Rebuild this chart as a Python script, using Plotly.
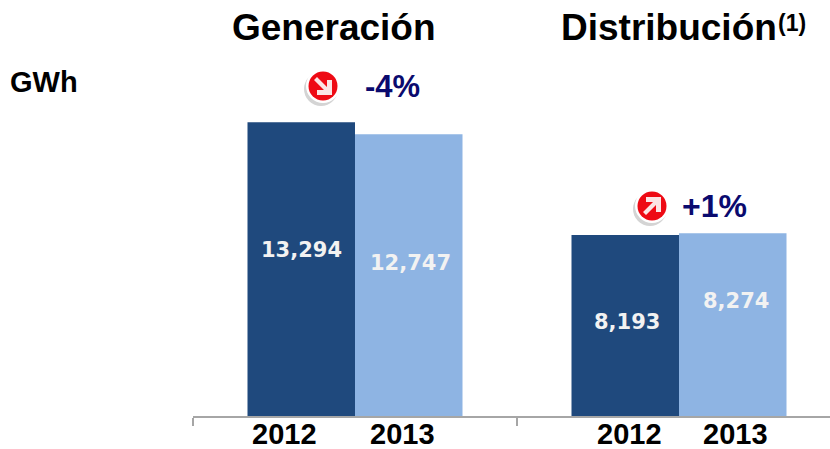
import plotly.graph_objects as go

W, H = 830, 449
categories = ["Generación", "Distribución"]
years = ["2012", "2013"]
values_2012 = [13294, 8193]
values_2013 = [12747, 8274]
changes = ["-4%", "+1%"]
unit = "GWh"
note = "(1)"

def px(x): return x / W
def py(y): return 1 - y / H

AX_Y = 416
fig = go.Figure()
fig.add_bar(name=years[0], x=categories, y=values_2012, marker=dict(color="#1f497d", line_width=0))
fig.add_bar(name=years[1], x=categories, y=values_2013, marker=dict(color="#8eb4e3", line_width=0))

fonts = "Liberation Sans, Arial, sans-serif"
ann = []
def text(x, y, s, size, color="#000000", family=fonts, anchor="center"):
    ann.append(dict(x=px(x), y=py(y), xref="paper", yref="paper", text=s, showarrow=False,
                    xanchor=anchor, yanchor="middle", font=dict(family=family, size=size, color=color)))

bold = lambda s: f"<b>{s}</b>"
text(334, 27, bold(categories[0]), 37)
text(669, 27, bold(categories[1]), 37)
text(792, 23, bold(note), 23)
text(44, 82, bold(unit), 29)

for x, y, v in zip([301, 627], [250, 322], values_2012):
    text(x, y, bold(f"{v:,}"), 21, "#f2f2f2", "DejaVu Sans")
for x, y, v in zip([410, 736], [263, 301], values_2013):
    text(x, y, bold(f"{v:,}"), 21, "#f2f2f2", "DejaVu Sans")

for x in [284, 629]:
    text(x, 434, bold(years[0]), 29)
for x in [402, 735]:
    text(x, 434, bold(years[1]), 29)

text(392, 86, bold(changes[0]), 31, "#0a0a6e")
text(714, 206, bold(changes[1]), 32, "#0a0a6e")

shapes = []
def badge(cx, cy, up):
    def circ(dx, dy, r, color):
        shapes.append(dict(type="circle", xref="paper", yref="paper", layer="above",
                           x0=px(cx + dx - r), x1=px(cx + dx + r),
                           y0=py(cy + dy + r), y1=py(cy + dy - r),
                           fillcolor=color, line_width=0))
    circ(-2, 3, 17, "#d4d4d4")
    circ(0, 0, 17, "#ffffff")
    circ(0, 0, 14.5, "#ee0a14")
    s = -1 if up else 1
    pts = [(-9, -6), (-6, -9), (4, 1), (4, -6), (9, -6), (9, 9), (-6, 9), (-6, 4), (1, 4)]
    path = "M " + " L ".join(f"{px(cx + a)},{py(cy + s * b)}" for a, b in pts) + " Z"
    shapes.append(dict(type="path", xref="paper", yref="paper", layer="above",
                       path=path, fillcolor="#fbe4e4", line_width=0))

badge(323, 86, False)
badge(652, 206, True)

per_cat = 324
left = 193
fig.update_layout(
    width=W, height=H, autosize=False, showlegend=False,
    margin=dict(l=0, r=0, t=0, b=0),
    paper_bgcolor="#ffffff", plot_bgcolor="#ffffff",
    barmode="group", bargap=1 - 215 / per_cat, bargroupgap=0,
    xaxis=dict(domain=[px(left), 1], range=[-0.5, -0.5 + (W - left) / per_cat],
               showticklabels=False, showgrid=False, zeroline=False,
               showline=True, linecolor="#a6a6a6", linewidth=2,
               ticks="outside", tickson="boundaries", ticklen=8,
               tickcolor="#a6a6a6", tickwidth=2),
    yaxis=dict(domain=[py(AX_Y), 1], range=[0, AX_Y / 0.0221],
               visible=False, showgrid=False, zeroline=False),
    annotations=ann, shapes=shapes,
)
fig.write_html("out.html", config=dict(displayModeBar=False),
               post_script="document.body.style.margin='0';")
